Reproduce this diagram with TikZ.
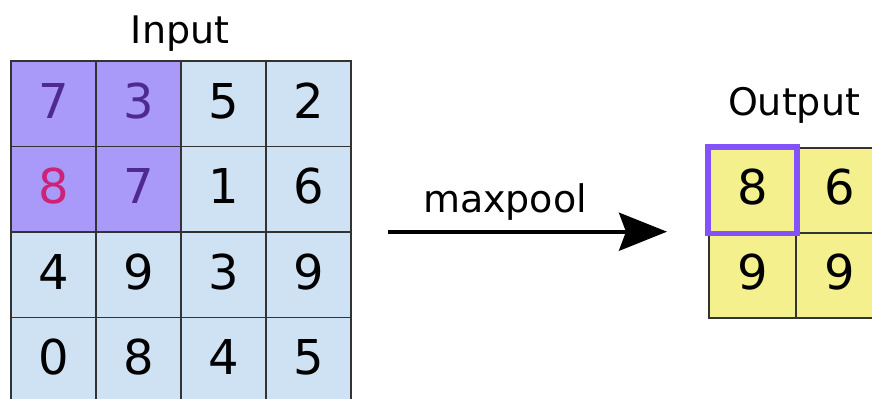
\documentclass[tikz,border=0pt]{standalone}
\usepackage{fontspec}
\setmainfont{DejaVu Sans}
\usetikzlibrary{arrows.meta}
\definecolor{cellblue}{HTML}{CFE2F3}
\definecolor{cellpurple}{HTML}{A999F9}
\definecolor{cellyellow}{HTML}{F4F08E}
\definecolor{hilite}{HTML}{8452FA}
\definecolor{darkpurple}{HTML}{4E2A8E}
\definecolor{magentatext}{HTML}{CC2277}
\begin{document}
\begin{tikzpicture}[x=0.5pt,y=-0.5pt,
  cellbase/.style={draw=black!80, line width=0.9pt, inner sep=0pt, anchor=north west,
    text depth=3pt, font=\fontsize{24}{28}\selectfont},
  incell/.style={cellbase, fill=cellblue, minimum width=42.5pt, minimum height=42.75pt},
  pcell/.style={incell, fill=cellpurple, text=darkpurple},
  outcell/.style={cellbase, fill=cellyellow, minimum width=43.5pt, minimum height=42.5pt},
  label/.style={font=\fontsize{19}{22}\selectfont, anchor=base, inner sep=0pt}]
\useasboundingbox (0,0) rectangle (872,398);
\clip (0,0) rectangle (872,398);
% input grid
\node[pcell] (i11) at (10,60) {7};
\node[pcell] (i12) at (95,60) {3};
\node[incell] (i13) at (180,60) {5};
\node[incell] (i14) at (265,60) {2};
\node[pcell, text=magentatext] (i21) at (10,145.5) {8};
\node[pcell] (i22) at (95,145.5) {7};
\node[incell] (i23) at (180,145.5) {1};
\node[incell] (i24) at (265,145.5) {6};
\node[incell] (i31) at (10,231) {4};
\node[incell] (i32) at (95,231) {9};
\node[incell] (i33) at (180,231) {3};
\node[incell] (i34) at (265,231) {9};
\node[incell] (i41) at (10,316.5) {0};
\node[incell] (i42) at (95,316.5) {8};
\node[incell] (i43) at (180,316.5) {4};
\node[incell] (i44) at (265,316.5) {5};
% output grid
\node[outcell] (o11) at (708,146.7) {8};
\node[outcell] (o12) at (795,146.7) {6};
\node[outcell] (o21) at (708,231.7) {9};
\node[outcell] (o22) at (795,231.7) {9};
\draw[hilite, line width=2.8pt] (o11.north west) rectangle (o11.south east);
% labels
\node[label] (inlabel) at (180,43) {Input};
\node[label] (outlabel) at (794,115) {Output};
\node[label] (mplabel) at (505,212) {maxpool};
% arrow
\coordinate (astart) at (388,231.7);
\coordinate (aend) at (667,231.7);
\draw[line width=1.9pt, -{Stealth[length=24pt, width=19pt, inset=3.5pt]}] (astart) -- (aend);
\end{tikzpicture}
\end{document}
